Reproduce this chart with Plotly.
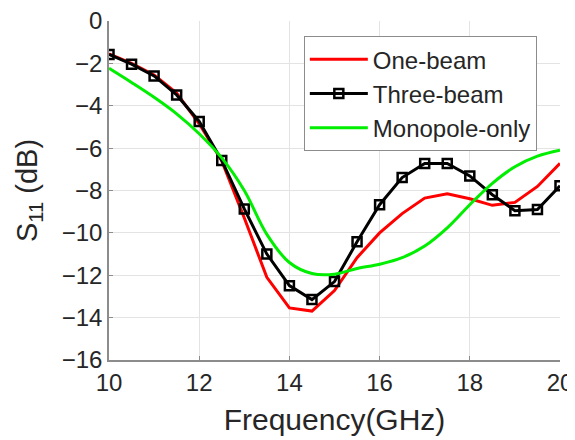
import plotly.graph_objects as go

# frequency points (GHz)
freq = [10, 10.5, 11, 11.5, 12, 12.5, 13, 13.5, 14, 14.5, 15,
        15.5, 16, 16.5, 17, 17.5, 18, 18.5, 19, 19.5, 20]

one_beam = [-1.55, -2.0, -2.55, -3.4, -4.85, -6.6, -9.3, -12.1, -13.54, -13.69, -12.72,
            -11.17, -10.0, -9.09, -8.36, -8.16, -8.39, -8.7, -8.56, -7.81, -6.72]
three_beam = [-1.58, -2.04, -2.59, -3.49, -4.74, -6.58, -8.87, -11.0, -12.49, -13.15, -12.3,
              -10.42, -8.67, -7.39, -6.72, -6.72, -7.31, -8.2, -8.95, -8.9, -7.78]
monopole = [-2.23, -2.9, -3.6, -4.38, -5.32, -6.46, -8.0, -10.07, -11.4, -11.92, -11.95,
            -11.68, -11.48, -11.17, -10.62, -9.76, -8.67, -7.66, -6.88, -6.38, -6.1]

FONT = "Liberation Sans, Arial, sans-serif"

fig = go.Figure()
fig.add_trace(go.Scatter(x=freq, y=one_beam, mode="lines", name="One-beam",
                         line=dict(color="#ff0000", width=3)))
fig.add_trace(go.Scatter(x=freq, y=three_beam, mode="lines+markers", name="Three-beam",
                         line=dict(color="black", width=3),
                         marker=dict(symbol="square-open", size=9, color="black",
                                     line=dict(width=2.5, color="black"))))
fig.add_trace(go.Scatter(x=freq, y=monopole, mode="lines", name="Monopole-only",
                         line=dict(color="#00ee00", width=3, shape="spline")))

# page body adds an 8px offset, so the figure is sized to the visible area
fig.update_layout(
    width=567, height=432,
    margin=dict(l=101, r=15, t=13, b=80),
    paper_bgcolor="white", plot_bgcolor="white",
    font=dict(family=FONT, size=24, color="#262626"),
    legend=dict(x=0.432, y=0.955, xanchor="left", yanchor="top",
                bgcolor="white", bordercolor="#8c8c8c", borderwidth=1,
                font=dict(size=24, color="#262626"), tracegroupgap=0,
                itemwidth=58),
    showlegend=True,
)
fig.update_xaxes(range=[10, 20], tickvals=[10, 12, 14, 16, 18, 20],
                 showgrid=True, gridcolor="#e3e3e3", gridwidth=1,
                 showline=True, linecolor="#8c8c8c", linewidth=1.5,
                 ticks="inside", ticklen=4, tickcolor="#8c8c8c",
                 zeroline=False, automargin=False, ticklabeloverflow="allow",
                 title=dict(text="Frequency(GHz)", font=dict(size=30), standoff=14))
fig.update_yaxes(range=[-16, 0], tickvals=list(range(-16, 1, 2)),
                 showgrid=True, gridcolor="#e3e3e3", gridwidth=1,
                 showline=True, linecolor="#8c8c8c", linewidth=1.5,
                 ticks="inside", ticklen=4, tickcolor="#8c8c8c",
                 zeroline=False, automargin=False, ticklabeloverflow="allow",
                 title=dict(text="S<sub>11</sub> (dB)", font=dict(size=29), standoff=16))

fig.write_html("out.html")
